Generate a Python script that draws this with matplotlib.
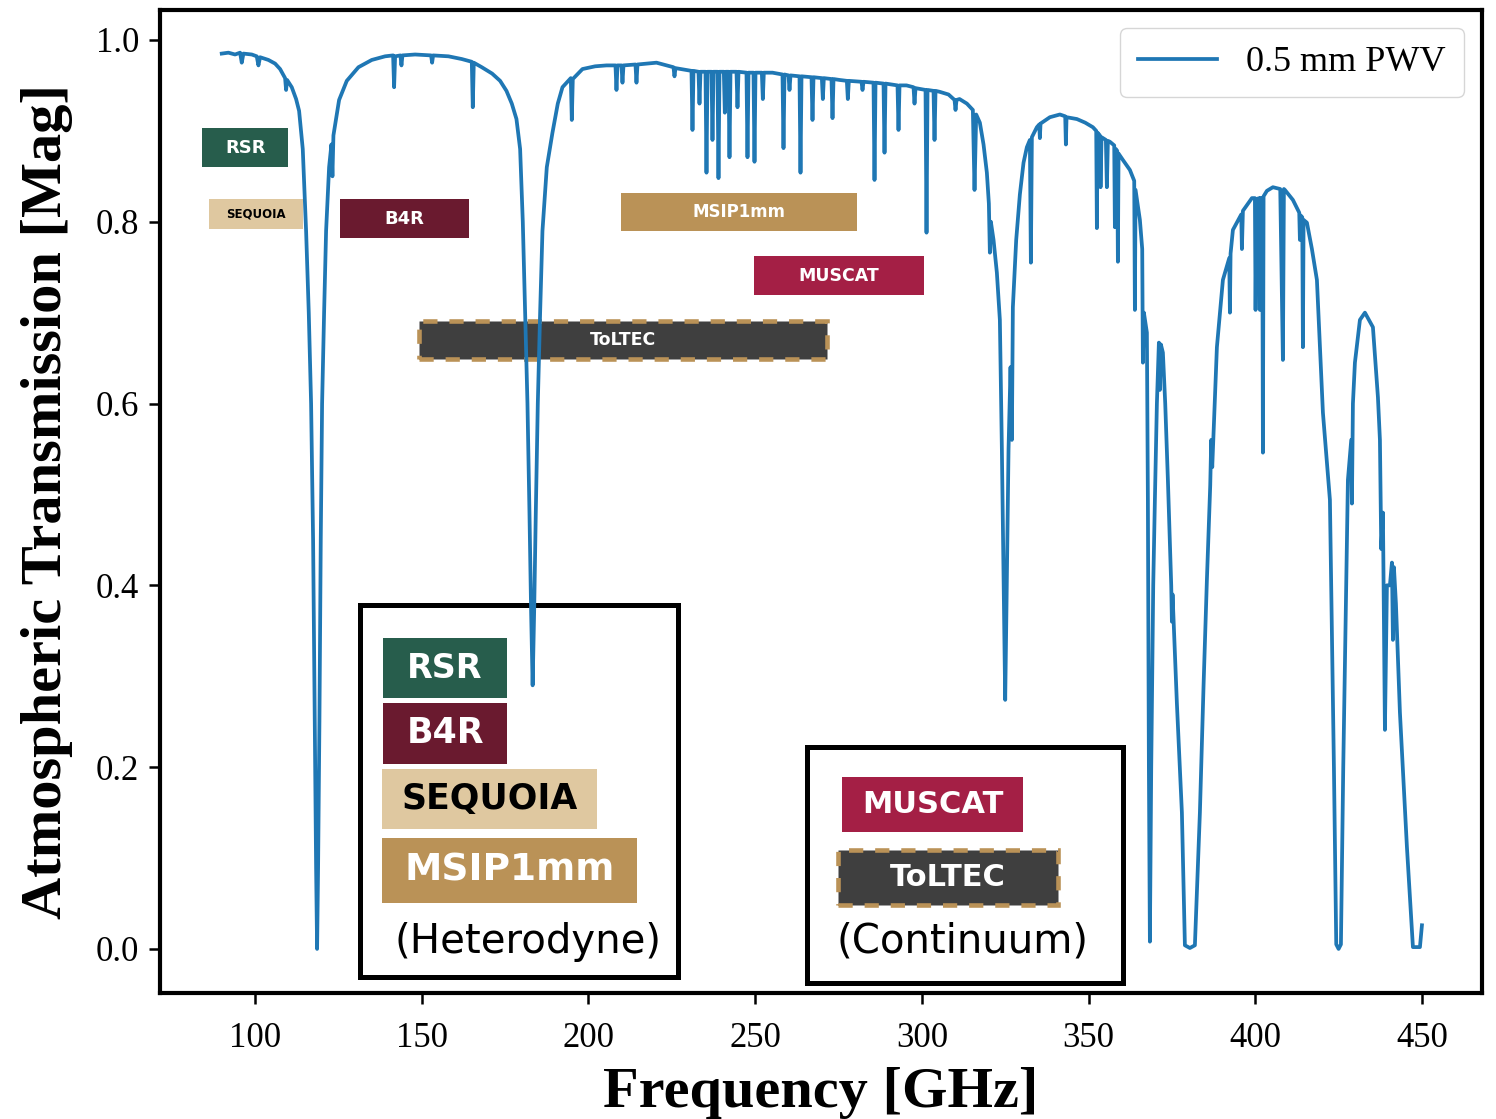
import matplotlib
matplotlib.use("Agg")
import matplotlib.pyplot as plt
from matplotlib.patches import Rectangle

plt.rcParams['font.family'] = 'serif'
plt.rcParams['font.serif'] = ['Liberation Serif', 'DejaVu Serif']

# atmospheric transmission at 0.5 mm PWV
freq_ghz = [
    90.0, 92.0, 94.0, 95.5, 96.0, 96.5, 99.0, 100.5, 101.0, 101.5, 104.0, 106.0, 107.5, 109.0, 109.3, 109.6,
    111.0, 112.3, 113.2, 114.3, 115.3, 116.1, 116.8, 117.4, 117.9, 118.3, 118.6, 118.9, 119.3, 119.7, 120.1,
    120.7, 121.3, 122.2, 122.9, 123.2, 123.5, 125.2, 127.5, 131.0, 135.0, 139.0, 141.4, 141.7, 142.0, 143.6,
    143.9, 144.2, 148.0, 152.8, 153.1, 153.4, 158.0, 162.0, 165.0, 165.3, 165.6, 168.0, 171.1, 173.5, 175.4,
    177.0, 178.4, 179.5, 180.3, 181.0, 181.7, 182.3, 182.8, 183.25, 183.7, 184.2, 184.8, 185.5, 186.2, 187.5,
    189.2, 190.8, 192.2, 194.7, 195.0, 195.3, 198.2, 202.0, 205.4, 208.1, 208.4, 208.7, 209.9, 210.2, 210.5,
    214.1, 214.4, 214.7, 220.4, 225.5, 225.8, 226.1, 229.4, 230.9, 231.2, 231.5, 233.0, 233.3, 233.6, 235.1,
    235.4, 235.7, 236.9, 237.2, 237.5, 238.7, 239.0, 239.3, 240.6, 240.9, 241.2, 242.0, 242.3, 242.6, 244.4,
    244.7, 245.0, 247.4, 247.7, 248.0, 249.5, 249.8, 250.1, 252.0, 252.3, 252.6, 255.2, 258.2, 258.5, 258.8,
    260.0, 260.3, 260.6, 263.3, 263.6, 263.9, 266.9, 267.2, 267.5, 270.0, 270.3, 270.6, 272.9, 273.2, 273.5,
    275.3, 277.5, 277.8, 278.1, 281.9, 282.2, 282.5, 285.5, 285.8, 286.1, 288.5, 288.8, 289.1, 292.7, 293.0,
    293.3, 295.4, 297.5, 297.8, 298.1, 301.1, 301.4, 301.7, 303.5, 303.8, 304.1, 305.3, 308.0, 309.8, 310.1,
    310.4, 311.3, 313.5, 315.3, 315.8, 316.3, 317.4, 318.5, 319.5, 320.1, 320.4, 320.7, 321.5, 322.5, 323.4,
    324.0, 324.6, 325.0, 325.4, 326.0, 326.6, 327.0, 327.3, 328.3, 329.4, 330.5, 331.5, 332.4, 332.7, 333.0,
    334.5, 335.2, 335.4, 335.6, 338.4, 341.4, 343.0, 343.2, 343.4, 346.5, 349.0, 351.3, 352.3, 352.5, 352.7,
    353.4, 353.6, 353.9, 355.2, 355.5, 355.8, 356.4, 357.7, 357.9, 358.2, 358.6, 358.8, 359.0, 360.3, 362.4,
    363.7, 363.9, 364.1, 365.4, 366.1, 366.3, 366.6, 367.5, 367.8, 368.1, 368.4, 368.8, 369.4, 369.9, 370.5,
    371.1, 371.4, 371.7, 372.3, 373.0, 373.8, 374.8, 375.0, 375.2, 376.5, 378.0, 378.9, 380.4, 381.9, 383.4,
    384.5, 385.5, 386.5, 386.8, 387.1, 388.5, 390.3, 392.2, 392.4, 392.6, 393.3, 395.8, 396.0, 396.3, 399.0,
    399.9, 400.1, 400.4, 401.2, 401.4, 401.6, 402.1, 402.3, 402.5, 403.5, 405.3, 407.5, 408.3, 408.6, 408.9,
    411.3, 413.2, 413.4, 413.6, 414.1, 414.3, 414.5, 415.5, 417.0, 418.5, 420.3, 422.4, 423.6, 424.3, 425.0,
    425.7, 426.4, 427.8, 428.8, 429.0, 429.3, 429.9, 431.4, 432.9, 435.3, 436.8, 437.4, 437.8, 438.3, 438.9,
    439.5, 440.4, 441.0, 441.3, 441.6, 442.2, 443.4, 445.5, 447.3, 449.4, 450.0,
]
transmission = [
    0.985, 0.986, 0.984, 0.986, 0.975, 0.985, 0.984, 0.982, 0.972, 0.981, 0.978, 0.974, 0.968, 0.958, 0.945, 0.956,
    0.948, 0.935, 0.922, 0.880, 0.790, 0.700, 0.600, 0.450, 0.250, 0.090, 0.000, 0.090, 0.250, 0.450, 0.600,
    0.700, 0.790, 0.860, 0.885, 0.850, 0.895, 0.934, 0.955, 0.970, 0.978, 0.982, 0.983, 0.948, 0.982, 0.983,
    0.972, 0.983, 0.984, 0.983, 0.975, 0.983, 0.982, 0.979, 0.976, 0.926, 0.975, 0.970, 0.963, 0.955, 0.944,
    0.930, 0.913, 0.880, 0.800, 0.700, 0.600, 0.480, 0.370, 0.290, 0.370, 0.480, 0.600, 0.700, 0.790, 0.860,
    0.898, 0.930, 0.948, 0.958, 0.912, 0.957, 0.968, 0.971, 0.972, 0.972, 0.945, 0.972, 0.972, 0.953, 0.972,
    0.973, 0.953, 0.973, 0.975, 0.970, 0.960, 0.969, 0.967, 0.966, 0.901, 0.966, 0.965, 0.930, 0.965, 0.965,
    0.854, 0.965, 0.965, 0.890, 0.965, 0.965, 0.848, 0.965, 0.965, 0.920, 0.965, 0.965, 0.871, 0.965, 0.965,
    0.926, 0.965, 0.964, 0.871, 0.964, 0.964, 0.866, 0.964, 0.964, 0.935, 0.964, 0.964, 0.962, 0.881, 0.962,
    0.961, 0.945, 0.961, 0.960, 0.854, 0.960, 0.959, 0.912, 0.959, 0.958, 0.935, 0.958, 0.957, 0.914, 0.957,
    0.956, 0.955, 0.935, 0.955, 0.954, 0.945, 0.954, 0.953, 0.846, 0.953, 0.952, 0.876, 0.952, 0.950, 0.901,
    0.950, 0.950, 0.948, 0.930, 0.947, 0.945, 0.788, 0.945, 0.944, 0.890, 0.944, 0.943, 0.940, 0.934, 0.923,
    0.934, 0.935, 0.930, 0.923, 0.835, 0.918, 0.909, 0.885, 0.854, 0.820, 0.766, 0.800, 0.780, 0.744, 0.692,
    0.550, 0.380, 0.274, 0.380, 0.550, 0.640, 0.560, 0.706, 0.780, 0.830, 0.865, 0.882, 0.890, 0.755, 0.893,
    0.904, 0.907, 0.892, 0.908, 0.915, 0.918, 0.916, 0.885, 0.915, 0.913, 0.909, 0.904, 0.900, 0.793, 0.898,
    0.895, 0.838, 0.893, 0.890, 0.838, 0.889, 0.888, 0.884, 0.794, 0.880, 0.878, 0.756, 0.875, 0.868, 0.857,
    0.845, 0.703, 0.835, 0.802, 0.770, 0.645, 0.700, 0.678, 0.494, 0.200, 0.008, 0.200, 0.400, 0.494, 0.600,
    0.667, 0.615, 0.665, 0.656, 0.600, 0.516, 0.400, 0.360, 0.390, 0.270, 0.150, 0.004, 0.001, 0.004, 0.150,
    0.290, 0.406, 0.510, 0.560, 0.530, 0.662, 0.736, 0.760, 0.700, 0.765, 0.791, 0.808, 0.770, 0.812, 0.826,
    0.826, 0.703, 0.825, 0.826, 0.703, 0.826, 0.826, 0.546, 0.828, 0.834, 0.838, 0.836, 0.648, 0.836, 0.835,
    0.824, 0.810, 0.780, 0.807, 0.805, 0.662, 0.802, 0.799, 0.770, 0.736, 0.590, 0.494, 0.200, 0.005, 0.000,
    0.005, 0.200, 0.516, 0.560, 0.490, 0.600, 0.645, 0.692, 0.700, 0.684, 0.607, 0.560, 0.440, 0.480, 0.241,
    0.400, 0.400, 0.425, 0.340, 0.420, 0.380, 0.260, 0.112, 0.002, 0.002, 0.026,
]

# instrument bands drawn on the spectrum (GHz)
band_names = ['RSR', 'SEQUOIA', 'B4R', 'MSIP1mm', 'MUSCAT', 'ToLTEC']
band_lo = [84.2, 86.2, 125.5, 209.8, 249.6, 149.2]
band_hi = [109.9, 114.4, 164.2, 280.5, 300.6, 271.4]
band_ybot = [0.860, 0.792, 0.782, 0.790, 0.719, 0.649]
band_ytop = [0.903, 0.825, 0.825, 0.832, 0.762, 0.691]

colors = {
    'RSR': '#275D4C',
    'B4R': '#6A1A2F',
    'SEQUOIA': '#DFC8A0',
    'MSIP1mm': '#BA9257',
    'MUSCAT': '#A41F45',
    'ToLTEC': '#3F3F3F',
}
text_colors = {'SEQUOIA': 'black'}
small_sizes = {'RSR': 13, 'SEQUOIA': 8.5, 'B4R': 13, 'MSIP1mm': 12, 'MUSCAT': 12.5, 'ToLTEC': 12.5}

# key boxes (axes fraction: x0, x1, y0, y1, fontsize)
key_items = [
    ('RSR', 0.1687, 0.2625, 0.3001, 0.3611, 24),
    ('B4R', 0.1687, 0.2625, 0.2330, 0.2950, 25),
    ('SEQUOIA', 0.1680, 0.3306, 0.1668, 0.2279, 25),
    ('MSIP1mm', 0.1680, 0.3608, 0.0916, 0.1577, 27),
    ('MUSCAT', 0.5159, 0.6528, 0.1638, 0.2197, 22),
    ('ToLTEC', 0.5129, 0.6793, 0.0895, 0.1455, 22),
]
key_frames = [(0.151, 0.392, 0.0163, 0.3947), (0.4894, 0.7284, 0.0102, 0.2503)]
key_titles = [('(Heterodyne)', 0.278, 0.052), ('(Continuum)', 0.607, 0.052)]

box_font = 'DejaVu Sans'


def draw_box(ax, name, x0, x1, y0, y1, size, trans):
    if name == 'ToLTEC':
        ec, ls, lw = '#BA9257', (0, (3.1, 2.6)), 3.3
    else:
        ec, ls, lw = 'none', '-', 0
    r = Rectangle((x0, y0), x1 - x0, y1 - y0, facecolor=colors[name], edgecolor=ec,
                  linestyle=ls, linewidth=lw, transform=trans, zorder=4, clip_on=False)
    ax.add_patch(r)
    ax.text((x0 + x1) / 2, (y0 + y1) / 2, name, transform=trans, ha='center', va='center',
            color=text_colors.get(name, 'white'), fontsize=size, fontweight='bold',
            family=box_font, zorder=6)


fig = plt.figure(figsize=(14.96, 11.19), dpi=100)
ax = fig.add_axes([0.107, 0.1126, 0.8836, 0.8785])

ax.plot(freq_ghz, transmission, color='#1f77b4', lw=2.7, label='0.5 mm PWV', zorder=5)

for name, lo, hi, yb, yt in zip(band_names, band_lo, band_hi, band_ybot, band_ytop):
    draw_box(ax, name, lo, hi, yb, yt, small_sizes[name], ax.transData)

for name, x0, x1, y0, y1, size in key_items:
    draw_box(ax, name, x0, x1, y0, y1, size, ax.transAxes)

for x0, x1, y0, y1 in key_frames:
    ax.add_patch(Rectangle((x0, y0), x1 - x0, y1 - y0, facecolor='none', edgecolor='black',
                           linewidth=3.6, transform=ax.transAxes, zorder=4))

for txt, x, y in key_titles:
    ax.text(x, y, txt, transform=ax.transAxes, ha='center', va='center', fontsize=29,
            family=box_font, color='black', zorder=6)

ax.set_xlim(71.5, 468)
ax.set_ylim(-0.0485, 1.033)
ax.set_xticks([100, 150, 200, 250, 300, 350, 400, 450])
ax.set_yticks([0.0, 0.2, 0.4, 0.6, 0.8, 1.0])
ax.set_yticklabels(['0.0', '0.2', '0.4', '0.6', '0.8', '1.0'])
ax.tick_params(labelsize=25, length=8, width=1.8, colors='black')
ax.tick_params(axis='x', pad=13)
ax.tick_params(axis='y', pad=7)
for sp in ax.spines.values():
    sp.set_linewidth(3)

ax.set_xlabel('Frequency [GHz]', fontsize=42, fontweight='bold')
ax.set_ylabel('Atmospheric Transmission [Mag]', fontsize=42, fontweight='bold')
ax.xaxis.set_label_coords(0.5, -0.075)
ax.yaxis.set_label_coords(-0.066, 0.5)

ax.legend(loc='upper right', fontsize=26, handlelength=2.2, borderpad=0.5, framealpha=0.8)

fig.savefig('out.png', dpi=100)
